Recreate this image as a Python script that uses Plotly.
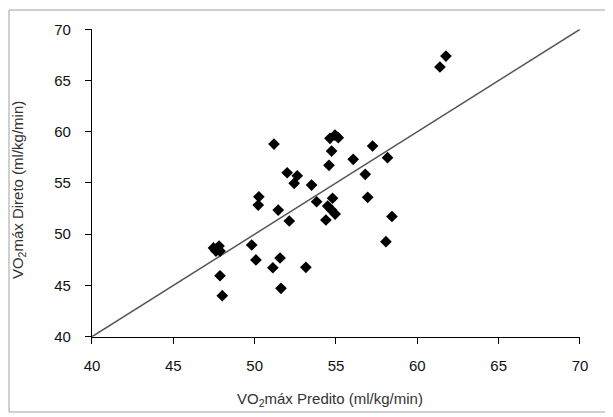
import plotly.graph_objects as go

# Data
vo2_predito = [
    51.19, 54.63, 54.94, 55.14, 54.73, 54.57, 57.25, 56.06, 58.17, 56.80,
    53.50, 53.81, 54.79, 54.49, 54.73, 54.95, 54.38, 56.95, 58.44, 52.13,
    58.07, 51.56, 53.15, 52.00, 52.62, 52.43, 50.26, 50.22, 51.45, 47.47,
    47.81, 47.87, 47.62, 49.82, 50.08, 51.12, 47.87, 48.01, 51.62, 61.76,
    61.39,
]
vo2_direto = [
    58.80, 59.36, 59.68, 59.42, 58.12, 56.73, 58.61, 57.31, 57.47, 55.85,
    54.80, 53.17, 53.51, 52.75, 52.36, 51.97, 51.39, 53.60, 51.73, 51.29,
    49.27, 47.68, 46.77, 56.00, 55.71, 54.97, 53.66, 52.85, 52.36, 48.66,
    48.85, 48.36, 48.36, 48.95, 47.49, 46.73, 45.95, 44.00, 44.72, 67.39,
    66.32,
]
identity_line = [40, 70]
tick_values = [40, 45, 50, 55, 60, 65, 70]

fig = go.Figure()
fig.add_trace(go.Scatter(
    x=identity_line, y=identity_line, mode="lines",
    line=dict(color="#555555", width=1.5), hoverinfo="skip", showlegend=False,
))
fig.add_trace(go.Scatter(
    x=vo2_predito, y=vo2_direto, mode="markers",
    marker=dict(symbol="diamond", size=9, color="black", line=dict(width=0)),
    showlegend=False,
))

axis_common = dict(
    range=[40, 70], tickvals=tick_values, showgrid=False, zeroline=False,
    showline=True, linecolor="black", linewidth=1,
    ticks="outside", ticklen=6, tickcolor="black", tickwidth=1,
    tickfont=dict(family="Liberation Sans, Arial, sans-serif", size=15, color="#111111"),
    automargin=False,
)

fig.update_layout(
    width=605, height=409,
    margin=dict(l=1, r=7, t=2, b=5, autoexpand=False),
    paper_bgcolor="white", plot_bgcolor="white",
    font=dict(family="Liberation Sans, Arial, sans-serif"),
    xaxis=dict(**axis_common, domain=[0.1390, 0.9564], ticklabelstandoff=9),
    yaxis=dict(**axis_common, domain=[0.1873, 0.9520], ticklabelstandoff=11),
    annotations=[
        dict(text="VO<sub>2</sub>máx Predito (ml/kg/min)", xref="paper", yref="paper",
             x=0.5377, y=0.030, xanchor="center", yanchor="middle", showarrow=False,
             font=dict(size=15, color="#333333")),
        dict(text="VO<sub>2</sub>máx Direto (ml/kg/min)", xref="paper", yref="paper",
             x=0.0151, y=0.552, xanchor="center", yanchor="middle", showarrow=False,
             textangle=-90, font=dict(size=15, color="#333333")),
    ],
    shapes=[
        dict(type="rect", xref="paper", yref="paper",
             x0=0, x1=1, y0=0, y1=1,
             line=dict(color="#a0a0a0", width=1), fillcolor="rgba(0,0,0,0)", layer="above"),
    ],
)

fig.write_html("out.html")
